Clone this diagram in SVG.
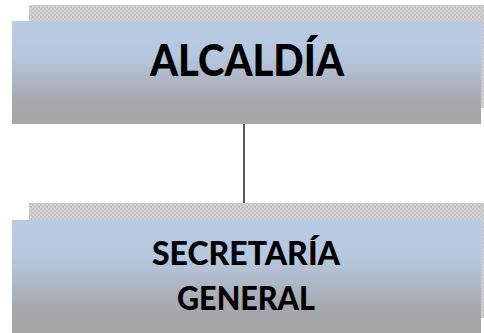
<svg xmlns="http://www.w3.org/2000/svg" width="484" height="333" viewBox="0 0 484 333">
<style>
.lbl{font-family:Lato,"Liberation Sans",Arial,sans-serif;font-weight:900;fill:#000;text-anchor:middle}
.conn{stroke:#000;stroke-width:1.3;fill:none}
</style>
<defs>
<pattern id="chk" width="4" height="4" patternUnits="userSpaceOnUse">
<rect width="4" height="4" fill="#d4d4d4"/>
<rect width="2" height="2" fill="#c2c2c2"/>
<rect x="2" y="2" width="2" height="2" fill="#c2c2c2"/>
</pattern>
<linearGradient id="g" x1="0" y1="0" x2="0" y2="1">
<stop offset="0" stop-color="#b8cce4"/>
<stop offset="0.35" stop-color="#b5c7dd"/>
<stop offset="0.75" stop-color="#a7a9ae"/>
<stop offset="1" stop-color="#a5a5a5"/>
</linearGradient>
</defs>
<g id="connectors">
<line class="conn" x1="244" y1="124" x2="244" y2="220"/>
</g>
<g id="alcaldia">
<rect x="29" y="5" width="455" height="103" fill="url(#chk)"/>
<rect x="12" y="21" width="469" height="103" fill="url(#g)"/>
<text class="lbl" x="247" y="76" font-size="44" textLength="194" lengthAdjust="spacingAndGlyphs">ALCALDÍA</text>
</g>
<g id="secretaria">
<rect x="29" y="203" width="455" height="115" fill="url(#chk)"/>
<rect x="12" y="220" width="469" height="113" fill="url(#g)"/>
<text class="lbl" x="246" y="265" font-size="33" textLength="188" lengthAdjust="spacingAndGlyphs">SECRETARÍA</text>
<text class="lbl" x="246" y="310" font-size="33" textLength="138" lengthAdjust="spacingAndGlyphs">GENERAL</text>
</g>
</svg>
